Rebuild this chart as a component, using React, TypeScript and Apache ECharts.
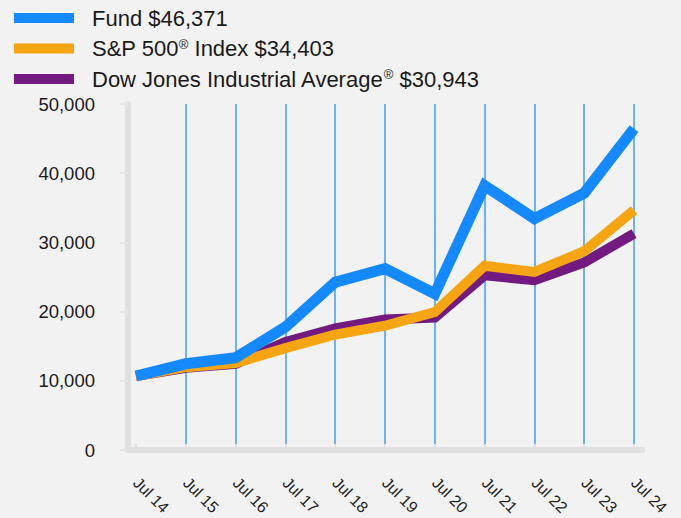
import React, { useEffect, useRef } from "react";
import * as echarts from "echarts";

const categories = ["Jul 14", "Jul 15", "Jul 16", "Jul 17", "Jul 18", "Jul 19", "Jul 20", "Jul 21", "Jul 22", "Jul 23", "Jul 24"];
const fundValues = [10000, 11800, 12700, 17200, 23800, 25800, 22100, 38000, 33150, 36900, 46371];
const spValues = [10000, 11300, 11900, 14100, 16100, 17400, 19400, 26200, 25300, 28350, 34403];
const dowValues = [10000, 11200, 11800, 15000, 17000, 18300, 18600, 24800, 24100, 26700, 30943];
const seriesNames = ["Fund $46,371", "S&P 500® Index $34,403", "Dow Jones Industrial Average® $30,943"];
const yTicks = [0, 10000, 20000, 30000, 40000, 50000];

const FONT = "'Liberation Sans', Arial, sans-serif";

export default function App() {
  const ref = useRef<HTMLDivElement>(null);
  useEffect(() => {
    if (!ref.current) return;
    const chart = echarts.init(ref.current, undefined, { renderer: "svg" });
    const gridBlue = "#6cb2f7";
    const splitColors = categories.map((_, i) => (i === 0 ? "rgba(0,0,0,0)" : gridBlue));
    chart.setOption({
      animation: false,
      backgroundColor: "#f2f2f2",
      textStyle: { fontFamily: FONT },
      legend: {
        orient: "vertical",
        left: 14,
        top: 7,
        padding: 0,
        itemWidth: 60,
        itemHeight: 10,
        itemGap: 8.5,
        icon: "rect",
        selectedMode: false,
        data: seriesNames,
        lineStyle: { width: 10, cap: "butt" },
        formatter: (name: string) => name.replace("®", "{sup|®}"),
        textStyle: {
          fontFamily: FONT,
          fontSize: 22,
          lineHeight: 22,
          color: "#1a1a1a",
          padding: [0, 0, 0, 13],
          rich: {
            sup: { fontFamily: FONT, fontSize: 13, verticalAlign: "top", color: "#1a1a1a", lineHeight: 22 },
          },
        },
      },
      grid: [
        { left: 128, right: 39, top: 104, bottom: 68 },
        { left: 136, right: 47, top: 104, bottom: 68 },
      ],
      xAxis: [
        {
          gridIndex: 0,
          type: "value",
          min: 0,
          max: 1,
          axisLine: { show: true, lineStyle: { color: "#e0e0e0", width: 6 } },
          axisTick: { show: false },
          axisLabel: { show: false },
          splitLine: { show: false },
          z: 5,
        },
        {
          gridIndex: 1,
          type: "category",
          boundaryGap: false,
          data: categories,
          axisLine: { show: false },
          axisTick: { show: true, length: 7, lineStyle: { color: "#e0e0e0", width: 2 } },
          axisLabel: {
            rotate: -45,
            margin: 36,
            fontSize: 16,
            color: "#222",
            fontFamily: FONT,
            interval: 0,
          },
          splitLine: { show: true, lineStyle: { color: splitColors, width: 2 } },
        },
      ],
      yAxis: [
        {
          gridIndex: 0,
          type: "value",
          min: yTicks[0],
          max: yTicks[yTicks.length - 1],
          interval: 10000,
          axisLine: { show: true, lineStyle: { color: "#e0e0e0", width: 6 } },
          axisTick: { show: true, length: 8, lineStyle: { color: "#e6e6e6", width: 2 } },
          axisLabel: {
            margin: 33,
            fontSize: 18.5,
            color: "#1a1a1a",
            fontFamily: FONT,
            formatter: (v: number) => v.toLocaleString("en-US"),
          },
          splitLine: { show: false },
          z: 5,
        },
        {
          gridIndex: 1,
          type: "value",
          min: yTicks[0],
          max: yTicks[yTicks.length - 1],
          interval: 10000,
          show: false,
          splitLine: { show: false },
        },
      ],
      series: [
        {
          name: seriesNames[0],
          type: "line",
          xAxisIndex: 1,
          yAxisIndex: 1,
          data: fundValues,
          symbol: "none",
          z: 4,
          itemStyle: { color: "#1589ff" },
          lineStyle: { color: "#1589ff", width: 11, join: "miter", cap: "butt" },
        },
        {
          name: seriesNames[1],
          type: "line",
          xAxisIndex: 1,
          yAxisIndex: 1,
          data: spValues,
          symbol: "none",
          z: 3,
          itemStyle: { color: "#f5a511" },
          lineStyle: { color: "#f5a511", width: 10, join: "miter", cap: "butt" },
        },
        {
          name: seriesNames[2],
          type: "line",
          xAxisIndex: 1,
          yAxisIndex: 1,
          data: dowValues,
          symbol: "none",
          z: 2,
          itemStyle: { color: "#721a80" },
          lineStyle: { color: "#721a80", width: 10, join: "miter", cap: "butt" },
        },
      ],
    });
    return () => chart.dispose();
  }, []);
  return (
    <div
      ref={ref}
      style={{ position: "fixed", left: 0, top: 0, width: 681, height: 518, background: "#f2f2f2" }}
    />
  );
}
